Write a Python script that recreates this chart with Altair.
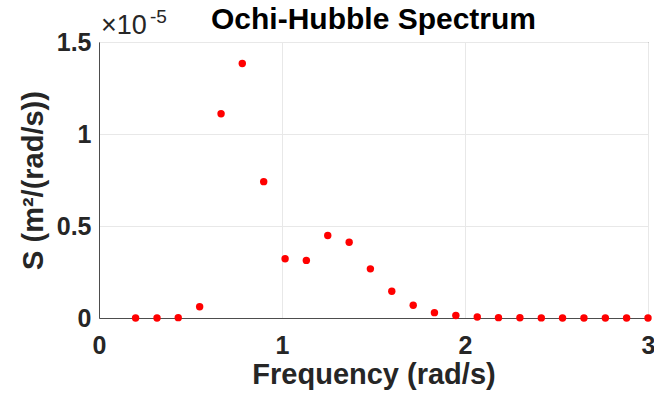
import altair as alt
import pandas as pd

# Ochi-Hubble wave spectrum sampled at discrete frequencies
frequency = [0.2, 0.317, 0.433, 0.55, 0.667, 0.783, 0.9, 1.017, 1.133, 1.25,
             1.367, 1.483, 1.6, 1.717, 1.833, 1.95, 2.067, 2.183, 2.3, 2.417,
             2.533, 2.65, 2.767, 2.883, 3.0]
# spectral density in units of 1e-5 m^2/(rad/s)
density_e5 = [0.0, 0.0, 0.002, 0.061, 1.11, 1.383, 0.741, 0.322, 0.313, 0.448,
              0.412, 0.267, 0.145, 0.069, 0.029, 0.014, 0.005, 0.002, 0.001, 0.0005,
              0.0003, 0.0002, 0.0001, 0.0001, 0.0]

x_ticks = [0, 1, 2, 3]
y_ticks = [0, 0.5, 1.0, 1.5]

df = pd.DataFrame({"w": frequency, "S": density_e5})
labels = pd.DataFrame({"title": ["Ochi-Hubble Spectrum"], "base": ["×10"], "power": ["-5"]})

FONT = "Liberation Sans"
INK = "#262626"
W, H = 549, 276

points = alt.Chart(df).mark_circle(size=55, color="#ff0000", opacity=1).encode(
    x=alt.X("w:Q", scale=alt.Scale(domain=[0, 3], nice=False),
            axis=alt.Axis(values=x_ticks, format="d", title="Frequency (rad/s)",
                          titleY=65, titleBaseline="alphabetic", labelPadding=15)),
    y=alt.Y("S:Q", scale=alt.Scale(domain=[0, 1.5], nice=False),
            axis=alt.Axis(values=y_ticks, labelExpr="format(datum.value, '.1~f')",
                          title="S (m²/(rad/s))", titleX=-57,
                          titleBaseline="alphabetic", labelPadding=8)),
)

# exponent marker for the y axis
exp_base = alt.Chart(labels).mark_text(
    font=FONT, fontSize=27, align="left", baseline="alphabetic", color=INK
).encode(text="base:N", x=alt.value(2), y=alt.value(-8))
exp_pow = alt.Chart(labels).mark_text(
    font=FONT, fontSize=19, align="left", baseline="alphabetic", color=INK
).encode(text="power:N", x=alt.value(51), y=alt.value(-19))

# chart title
title = alt.Chart(labels).mark_text(
    font=FONT, fontSize=30, fontWeight="bold",
    align="center", baseline="alphabetic", color="#000000"
).encode(text="title:N", x=alt.value(W / 2), y=alt.value(-13))

chart = alt.layer(points, exp_base, exp_pow, title).properties(
    width=W,
    height=H,
    autosize=alt.AutoSizeParams(type="none"),
    padding={"left": 99, "top": 42, "right": 6, "bottom": 86},
).configure_view(
    stroke="#4d4d4d", strokeWidth=1
).configure_axis(
    labelFont=FONT, labelFontSize=25, labelFontWeight="bold", labelColor=INK,
    titleFont=FONT, titleFontSize=29, titleFontWeight="bold", titleColor=INK,
    grid=True, gridColor="#e8e8e8", gridWidth=1,
    domainColor="#4d4d4d", domainWidth=1,
    ticks=False, labelFlush=False,
)

chart.save("out.html", embed_options={"renderer": "svg", "actions": False})
